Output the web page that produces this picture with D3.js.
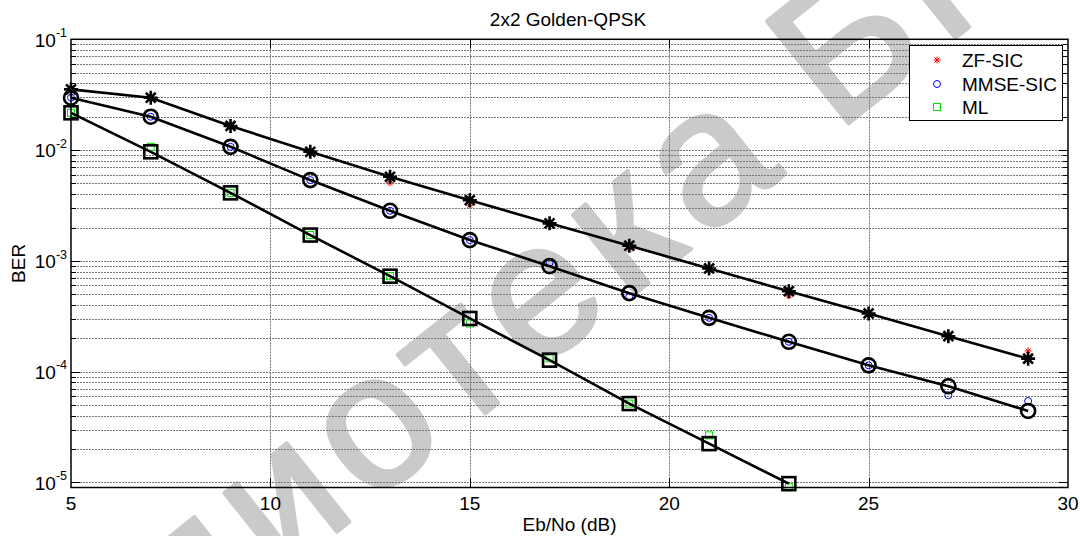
<!DOCTYPE html>
<html>
<head>
<meta charset="utf-8">
<script src="https://cdn.jsdelivr.net/npm/d3@7"></script>
<style>
  body { margin: 0; background: #fff; }
  svg text { font-family: "Liberation Sans", Arial, sans-serif; }
</style>
</head>
<body>
<div id="chart"></div>
<script>
// Eb/No points (dB)
const ebno = [5, 7, 9, 11, 13, 15, 17, 19, 21, 23, 25, 27, 29];
const ebnoML = [5, 7, 9, 11, 13, 15, 17, 19, 21, 23];

// simulated BER (coloured markers)
const zfSim = [0.0353, 0.0297, 0.0165, 0.0098, 0.00507, 0.00318, 0.00218, 0.00128, 0.00085, 0.000483, 0.000335, 0.00021, 0.000154];
const mmseSim = [0.0297, 0.02, 0.0107, 0.00536, 0.00283, 0.00154, 0.00096, 0.000478, 0.000306, 0.000186, 0.000114, 6.12e-5, 5.43e-5];
const mlSim = [0.0217, 0.0107, 0.00411, 0.00171, 0.000727, 0.000272, 0.000132, 5.15e-5, 2.66e-5, 9.05e-6];

// smoothed BER (black lines with markers)
const zfFit = [0.0353, 0.0297, 0.0165, 0.00965, 0.00574, 0.00353, 0.00218, 0.00137, 0.000854, 0.000532, 0.000335, 0.000209, 0.000131];
const mmseFit = [0.0297, 0.02, 0.0107, 0.00536, 0.00283, 0.00154, 0.000896, 0.000511, 0.000306, 0.000186, 0.000114, 7.38e-5, 4.42e-5];
const mlFit = [0.0217, 0.00965, 0.00411, 0.00171, 0.000727, 0.000302, 0.000127, 5.15e-5, 2.24e-5, 9.75e-6];

const legendNames = ["ZF-SIC", "MMSE-SIC", "ML"];
const xTicks = [5, 10, 15, 20, 25, 30];
const yTickExp = [-5, -4, -3, -2, -1];

const W = 1080, H = 536;
const margin = { top: 39.3, right: 12, bottom: 48.5, left: 71 };

const svg = d3.select("#chart").append("svg")
  .attr("width", W)
  .attr("height", H);

const x = d3.scaleLinear().domain([5, 30]).range([margin.left, W - margin.right]);
const y = d3.scaleLog().domain([9e-6, 0.1]).range([H - margin.bottom, margin.top]);

const x0 = x.range()[0], x1 = x.range()[1];
const yb = y.range()[0], yt = y.range()[1];

// library watermark, behind everything
const wm = svg.append("g")
  .attr("transform", "translate(795,166) rotate(-38.6)")
  .style("font-size", "190px")
  .attr("fill", "#cacaca")
  .attr("stroke", "#cacaca")
  .attr("stroke-width", 4)
  .attr("stroke-linejoin", "round");
wm.append("text").attr("text-anchor", "end").attr("letter-spacing", 12).text("Библиотека");
wm.append("text").attr("x", 53).attr("letter-spacing", 12).text("БГУИР");

// grid
const minorVals = [];
for (let e = -6; e <= -2; e++) {
  for (let m = 1; m <= 9; m++) {
    const v = m * Math.pow(10, e);
    if (v > 9e-6 && v < 0.1) minorVals.push(v);
  }
}
const grid = svg.append("g")
  .attr("stroke", "#777")
  .attr("stroke-width", 1)
  .attr("stroke-dasharray", "2,1");
grid.selectAll(".hg").data(minorVals).enter().append("line")
  .attr("x1", x0).attr("x2", x1)
  .attr("y1", d => Math.round(y(d)) + 0.5).attr("y2", d => Math.round(y(d)) + 0.5);
grid.selectAll(".vg").data(xTicks.slice(1, -1)).enter().append("line")
  .attr("y1", yt).attr("y2", yb)
  .attr("x1", d => Math.round(x(d)) + 0.5).attr("x2", d => Math.round(x(d)) + 0.5);

// marker shapes
function star(r) {
  const a = r * 0.7071;
  return `M${-r},0L${r},0M0,${-r}L0,${r}M${-a},${-a}L${a},${a}M${-a},${a}L${a},${-a}`;
}
function marker(g, shape, r, color, sw) {
  if (shape === "o") {
    g.append("circle").attr("r", r).attr("fill", "none").attr("stroke", color).attr("stroke-width", sw);
  } else if (shape === "s") {
    g.append("rect").attr("x", -r).attr("y", -r).attr("width", 2 * r).attr("height", 2 * r)
      .attr("fill", "none").attr("stroke", color).attr("stroke-width", sw);
  } else {
    g.append("path").attr("d", star(r)).attr("fill", "none").attr("stroke", color).attr("stroke-width", sw);
  }
}

const series = [
  { xs: ebno, sim: zfSim, fit: zfFit, shape: "*", color: "#ff0000" },
  { xs: ebno, sim: mmseSim, fit: mmseFit, shape: "o", color: "#0000ff" },
  { xs: ebnoML, sim: mlSim, fit: mlFit, shape: "s", color: "#00dd00" }
];

const plot = svg.append("g");

// coloured simulation markers first
series.forEach(s => {
  s.sim.forEach((v, i) => {
    const g = plot.append("g").attr("transform", `translate(${x(s.xs[i])},${y(v)})`);
    marker(g, s.shape, 3.5, s.color, 1);
  });
});

// black lines with big markers on top
const line = d3.line().x(d => x(d[0])).y(d => y(d[1]));
series.forEach(s => {
  const pts = s.xs.map((v, i) => [v, s.fit[i]]);
  plot.append("path")
    .attr("d", line(pts))
    .attr("fill", "none")
    .attr("stroke", "#000")
    .attr("stroke-width", 2.6);
  pts.forEach(p => {
    const g = plot.append("g").attr("transform", `translate(${x(p[0])},${y(p[1])})`);
    marker(g, s.shape, s.shape === "s" ? 6.5 : 7, "#000", 2.6);
  });
});

// axes box and ticks
const axes = svg.append("g").attr("stroke", "#000").attr("fill", "none");
axes.append("rect")
  .attr("x", x0).attr("y", yt)
  .attr("width", x1 - x0).attr("height", yb - yt)
  .attr("stroke-width", 1.5);

const majorVals = yTickExp.map(e => Math.pow(10, e));
[x0, x1].forEach((ax, k) => {
  const dir = k === 0 ? 1 : -1;
  axes.selectAll(null).data(minorVals).enter().append("line")
    .attr("x1", ax).attr("x2", d => ax + dir * (majorVals.includes(d) ? 9 : 5))
    .attr("y1", d => Math.round(y(d)) + 0.5).attr("y2", d => Math.round(y(d)) + 0.5);
});
[yb, yt].forEach((ay, k) => {
  const dir = k === 0 ? -1 : 1;
  axes.selectAll(null).data(xTicks.slice(1, -1)).enter().append("line")
    .attr("y1", ay).attr("y2", ay + dir * 9)
    .attr("x1", d => Math.round(x(d)) + 0.5).attr("x2", d => Math.round(x(d)) + 0.5);
});

// tick labels
const lab = svg.append("g").style("font-size", "19px").attr("fill", "#000");
lab.selectAll(".xt").data(xTicks).enter().append("text")
  .attr("x", d => x(d)).attr("y", yb + 22)
  .attr("text-anchor", "middle")
  .text(d => d);

const yl = lab.selectAll(".yt").data(yTickExp).enter().append("text")
  .attr("x", x0 - 4).attr("y", d => y(Math.pow(10, d)) + 7.4)
  .attr("text-anchor", "end");
yl.append("tspan").text("10");
yl.append("tspan").attr("dy", -9.7).style("font-size", "12.5px").text(d => d);

// title and axis labels
lab.append("text").attr("x", 568).attr("y", 26).attr("text-anchor", "middle").text("2x2 Golden-QPSK");
lab.append("text").attr("x", (x0 + x1) / 2).attr("y", 530.5).attr("text-anchor", "middle").text("Eb/No (dB)");
lab.append("text").attr("transform", `translate(25,${(yt + yb) / 2}) rotate(-90)`)
  .attr("text-anchor", "middle").text("BER");

// legend
const leg = svg.append("g");
leg.append("rect")
  .attr("x", 909.5).attr("y", 45.5).attr("width", 153).attr("height", 75)
  .attr("fill", "#fff").attr("stroke", "#000").attr("stroke-width", 1);
const legY = [60, 84, 107];
series.forEach((s, i) => {
  const g = leg.append("g").attr("transform", `translate(937,${legY[i]})`);
  marker(g, s.shape, 3.5, s.color, 1);
  leg.append("text")
    .attr("x", 962).attr("y", legY[i] + 7)
    .style("font-size", "19px")
    .text(legendNames[i]);
});
</script>
</body>
</html>
